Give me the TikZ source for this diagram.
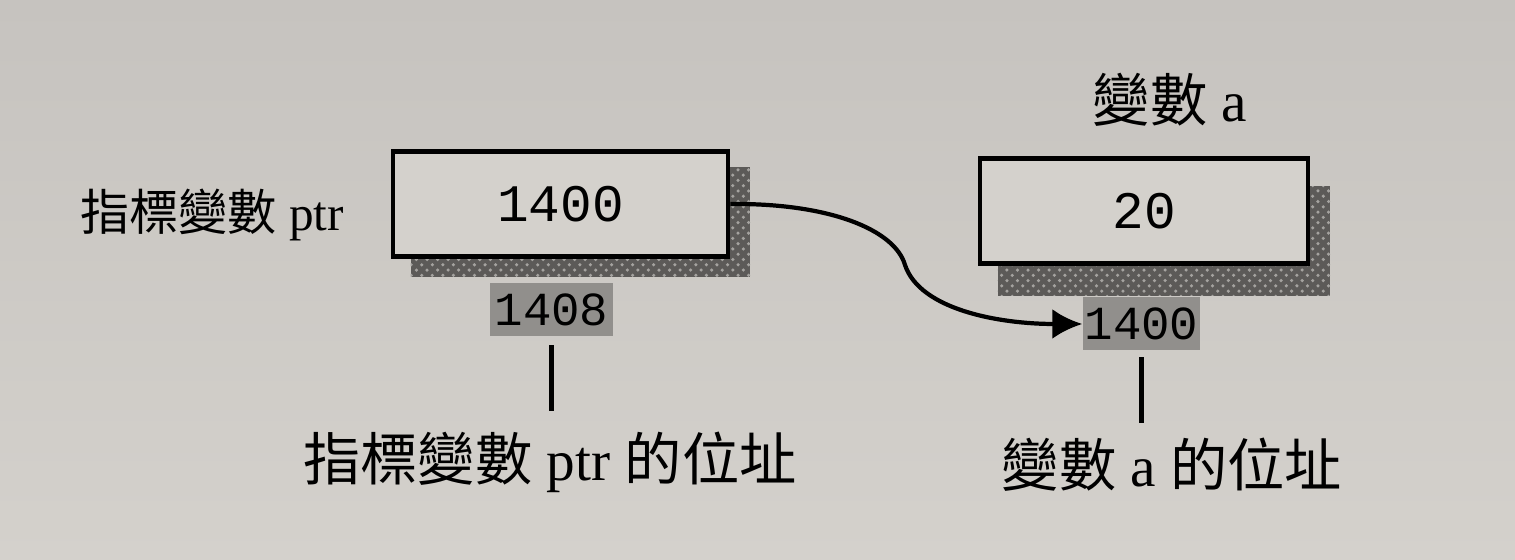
\documentclass[tikz,border=0pt]{standalone}
\usepackage{fontspec}
\setmainfont{Liberation Serif}
\setmonofont{Liberation Mono}
\newfontfamily\cjk{Noto Sans CJK TC}
\usetikzlibrary{arrows.meta,patterns,backgrounds}
\definecolor{paper}{RGB}{212,209,204}
\definecolor{papertop}{RGB}{198,195,191}
\definecolor{shadowgray}{RGB}{92,90,88}
\definecolor{shadowlight}{RGB}{165,163,160}
\definecolor{addrgray}{RGB}{145,143,140}
\begin{document}
\begin{tikzpicture}[
    varbox/.style={draw=black,line width=1.4pt,fill=paper,minimum width=3.3cm,
      minimum height=1.05cm,inner sep=0pt,font=\ttfamily\fontsize{15}{17}\selectfont},
    addrbox/.style={fill=addrgray,inner sep=0pt,minimum height=0.53cm,
      font=\ttfamily\fontsize{13.5}{15}\selectfont},
    label/.style={inner sep=0pt,font=\fontsize{14}{16}\selectfont},
    biglabel/.style={inner sep=0pt,font=\fontsize{16.3}{18}\selectfont},
    addrline/.style={line width=1.2pt},
    pointer/.style={line width=1.2pt,-{Latex[length=3mm,width=3mm]}},
    shade box/.style={fill=shadowgray,postaction={pattern=crosshatch dots,pattern color=shadowlight}}
  ]
  % Kaesten
  \node[varbox,minimum width=3.35cm] (ptr) at (5.605,3.56) {1400};
  \node[varbox,minimum width=3.28cm] (a) at (11.44,3.49) {20};
  % Adressen
  \node[addrbox,minimum width=1.23cm] (adrPtr) at (5.515,2.50) {1408};
  \node[addrbox,minimum width=1.17cm] (adrA) at (11.415,2.36) {1400};
  % Beschriftungen
  \node[label] (namePtr) at (2.12,3.45) {{\cjk 指標變數} ptr};
  \node[biglabel] (nameA) at (11.70,4.60) {{\cjk 變數} a};
  \node[biglabel] (txtPtr) at (5.50,0.98) {{\cjk 指標變數} ptr {\cjk 的位址}};
  \node[biglabel] (txtA) at (11.72,0.95) {{\cjk 變數} a {\cjk 的位址}};
  % Linien, Pfeil
  \draw[addrline,shorten <=0.08cm,shorten >=0.2cm] (adrPtr.south) -- (adrPtr.south |- txtPtr.north);
  \draw[addrline,shorten <=0.06cm,shorten >=0.15cm] (adrA.south) -- (adrA.south |- txtA.north);
  \draw[pointer] (ptr.east) .. controls (8.3,3.57) and (8.95,3.3) .. (9.05,2.95)
    .. controls (9.2,2.5) and (10,2.36) .. (adrA.west);
  % Hintergrund, Schatten
  \begin{scope}[on background layer]
    \shade[top color=papertop,bottom color=paper] (0,0) rectangle (15.15,5.6);
    \fill[shade box] ([shift={(0.2,-0.18)}]ptr.south west) rectangle ([shift={(0.2,-0.18)}]ptr.north east);
    \fill[shade box] ([shift={(0.2,-0.3)}]a.south west) rectangle ([shift={(0.2,-0.3)}]a.north east);
  \end{scope}
\end{tikzpicture}
\end{document}
